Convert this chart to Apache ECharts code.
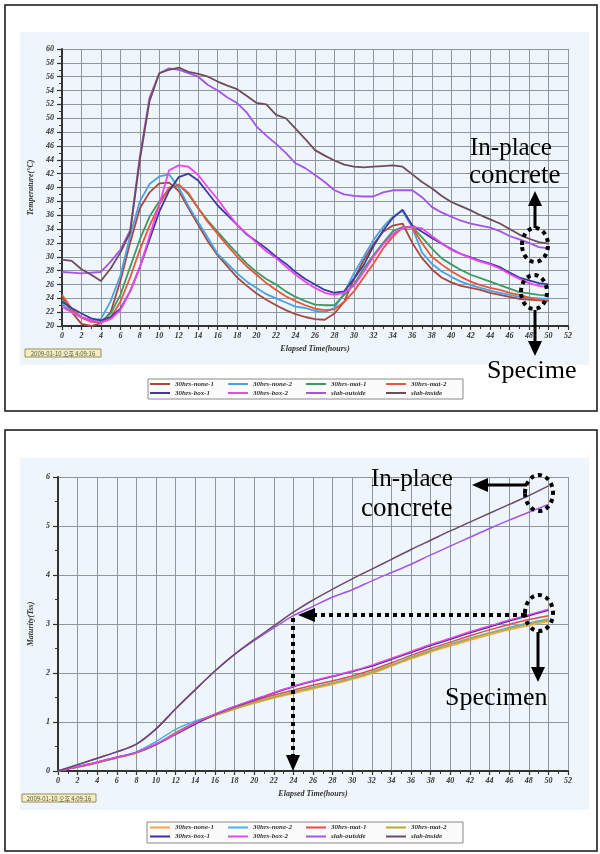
<!DOCTYPE html>
<html><head><meta charset="utf-8">
<script src="https://cdn.jsdelivr.net/npm/echarts/dist/echarts.min.js"></script>
<style>html,body{margin:0;padding:0;background:#fff}#c{width:600px;height:854px}</style>
</head><body><div id="c"></div>
<script>
// ---------- DATA ----------
const seriesNames = ['30hrs-none-1','30hrs-none-2','30hrs-mat-1','30hrs-mat-2','30hrs-box-1','30hrs-box-2','slab-outside','slab-inside'];
const xTicks = [0,2,4,6,8,10,12,14,16,18,20,22,24,26,28,30,32,34,36,38,40,42,44,46,48,50,52];
const tempTicks = [20,22,24,26,28,30,32,34,36,38,40,42,44,46,48,50,52,54,56,58,60];
const maturityTicks = [0,1,2,3,4,5,6];

// Temperature chart (top), hourly 0..50
const tempHours = [0,1,2,3,4,5,6,7,8,9,10,11,12,13,14,15,16,17,18,19,20,21,22,23,24,25,26,27,28,29,30,31,32,33,34,35,36,37,38,39,40,41,42,43,44,45,46,47,48,49,50];
const tempNone1 = [24.3,22.0,20.3,20.0,20.4,22.0,26.5,32.0,37.0,39.3,40.6,40.7,39.5,37.0,34.6,32.2,30.2,28.6,27.0,25.8,24.7,23.8,23.0,22.3,21.7,21.3,21.0,20.9,21.8,23.5,26.8,29.5,31.8,33.6,34.5,34.8,32.0,29.8,28.2,27.0,26.3,25.8,25.5,25.2,24.8,24.5,24.2,23.9,23.8,23.7,23.6];
const tempNone2 = [23.2,22.0,21.2,20.8,21.0,23.6,27.3,33.0,38.0,40.5,41.6,41.9,40.0,37.3,35.0,32.7,30.4,29.0,27.6,26.4,25.5,24.6,24.0,23.4,22.8,22.6,22.2,22.0,22.6,24.8,27.6,30.0,32.4,34.3,35.8,36.6,34.2,30.6,29.0,27.9,27.1,26.4,25.9,25.5,25.1,24.8,24.5,24.2,24.1,24.0,23.9];
const tempMat1 = [23.8,22.3,21.3,20.8,20.6,21.8,24.5,28.5,32.5,35.8,38.0,39.8,40.4,39.0,37.0,35.2,33.6,32.0,30.5,29.0,27.8,26.8,26.0,25.0,24.2,23.6,23.1,23.0,23.0,24.5,26.0,28.3,30.2,32.0,33.7,34.3,34.3,32.8,31.2,29.8,28.9,28.1,27.4,26.9,26.4,25.9,25.4,24.9,24.7,24.5,24.4];
const tempMat2 = [24.5,22.5,21.2,20.6,20.5,21.2,23.5,27.0,31.0,34.5,37.5,40.0,40.4,39.2,37.0,35.0,33.3,31.6,30.0,28.6,27.4,26.2,25.2,24.3,23.6,23.0,22.5,22.3,22.4,23.5,25.0,27.0,29.0,31.2,32.9,34.2,34.2,32.0,30.0,28.9,27.9,27.1,26.4,25.9,25.5,25.2,24.8,24.5,24.1,23.8,23.6];
const tempBox1 = [23.5,22.6,21.8,21.1,20.8,21.3,22.5,25.0,28.5,32.5,36.5,39.5,41.5,42.0,41.0,39.2,37.4,36.0,34.6,33.2,32.2,31.2,30.0,29.0,27.8,26.8,26.0,25.2,24.8,25.0,26.8,28.8,31.5,33.8,35.6,36.8,34.5,33.6,32.7,31.9,31.1,30.4,29.9,29.4,29.0,28.5,27.7,27.0,26.6,26.2,26.0];
const tempBox2 = [22.8,22.0,21.3,20.8,20.5,21.0,22.3,25.0,28.5,33.0,37.5,42.5,43.2,43.0,41.8,40.0,38.3,36.4,34.6,33.3,32.0,30.8,29.8,28.6,27.4,26.4,25.5,24.8,24.5,24.8,25.8,27.8,30.0,31.8,33.3,34.2,34.3,34.1,33.0,32.0,31.0,30.4,29.8,29.3,28.9,28.3,27.5,26.8,26.2,25.8,25.6];
const tempSlabOut = [27.8,27.7,27.6,27.7,27.8,29.3,31.0,33.8,44.5,53.0,56.5,57.2,57.0,56.5,56.0,54.8,54.0,53.0,52.2,50.8,48.8,47.5,46.3,45.0,43.5,42.8,41.8,40.8,39.6,39.0,38.8,38.7,38.7,39.3,39.6,39.6,39.6,38.6,37.2,36.4,35.8,35.2,34.8,34.5,34.2,33.7,33.0,32.5,32.0,31.4,31.2];
const tempSlabIn = [29.6,29.4,28.2,27.4,26.5,28.3,30.6,33.5,44.0,52.5,56.5,57.0,57.3,56.7,56.4,56.0,55.3,54.7,54.2,53.2,52.2,52.0,50.5,50.0,48.5,47.0,45.4,44.6,43.9,43.3,43.0,42.9,43.0,43.1,43.2,43.0,41.9,40.8,39.9,38.8,37.9,37.3,36.7,36.0,35.4,34.8,34.0,33.2,32.6,32.1,31.9];

// Maturity chart (bottom), every 2 hours 0..50
const matHours = [0,2,4,6,8,10,12,14,16,18,20,22,24,26,28,30,32,34,36,38,40,42,44,46,48,50];
const matNone1 = [0,0.08,0.17,0.27,0.37,0.54,0.78,0.98,1.13,1.26,1.38,1.49,1.58,1.68,1.77,1.87,1.99,2.14,2.29,2.43,2.55,2.67,2.78,2.88,2.97,3.05];
const matNone2 = [0,0.08,0.17,0.27,0.39,0.60,0.85,1.02,1.15,1.28,1.40,1.51,1.61,1.71,1.80,1.90,2.02,2.17,2.32,2.46,2.59,2.71,2.82,2.93,3.02,3.10];
const matMat1 = [0,0.08,0.17,0.27,0.37,0.55,0.78,0.99,1.16,1.30,1.43,1.55,1.65,1.75,1.84,1.94,2.06,2.21,2.36,2.50,2.63,2.76,2.88,2.99,3.09,3.17];
const matMat2 = [0,0.08,0.17,0.27,0.37,0.54,0.77,0.97,1.13,1.27,1.40,1.51,1.61,1.70,1.79,1.89,2.01,2.16,2.31,2.45,2.58,2.70,2.81,2.91,3.00,3.08];
const matBox1 = [0,0.09,0.18,0.28,0.38,0.54,0.75,0.96,1.15,1.31,1.45,1.59,1.72,1.83,1.93,2.03,2.14,2.28,2.42,2.56,2.69,2.82,2.94,3.06,3.17,3.28];
const matBox2 = [0,0.09,0.18,0.28,0.38,0.55,0.76,0.98,1.16,1.32,1.46,1.60,1.73,1.84,1.94,2.04,2.16,2.30,2.44,2.58,2.71,2.84,2.96,3.08,3.19,3.30];
const matSlabOut = [0,0.13,0.26,0.39,0.55,0.86,1.27,1.66,2.04,2.38,2.66,2.92,3.17,3.36,3.55,3.70,3.88,4.05,4.22,4.41,4.59,4.77,4.95,5.12,5.28,5.44];
const matSlabIn = [0,0.13,0.26,0.39,0.55,0.86,1.27,1.66,2.04,2.38,2.68,2.96,3.24,3.49,3.71,3.92,4.12,4.32,4.52,4.71,4.90,5.08,5.26,5.44,5.62,5.82];

const topColors = ['#a8473f','#4aa3e0','#3f9a60','#e8553f','#3b3c9c','#ee44ee','#a256e6','#6e4c5c'];
const bottomColors = ['#f0a848','#48b4ea','#e84a48','#b4aa30','#34349a','#e648e6','#a256e6','#6a4a6a'];

// ---------- CHART ----------
const topData = [tempNone1,tempNone2,tempMat1,tempMat2,tempBox1,tempBox2,tempSlabOut,tempSlabIn];
const botData = [matNone1,matNone2,matMat1,matMat2,matBox1,matBox2,matSlabOut,matSlabIn];
const BSUF = '\u200b';

const lab = {fontFamily:'Liberation Serif', fontStyle:'italic', fontWeight:'bold', fontSize:8, color:'#333'};
const gridLine = {show:true, lineStyle:{color:'#8f969d', width:1}};
function xAxis(gi){
  return {type:'value', gridIndex:gi, min:0, max:52, interval:2,
    axisLine:{show:true,onZero:false,lineStyle:{color:'#333',width:2}},
    axisTick:{show:true,length:4,lineStyle:{color:'#333',width:1.2}},
    minorTick:{show:true,splitNumber:2,length:3,lineStyle:{color:'#333',width:1}},
    splitLine:gridLine, axisLabel:Object.assign({margin:6},lab),
    name:'Elapsed Time(hours)', nameLocation:'middle', nameGap:19, nameTextStyle:lab};
}
function yAxis(gi,min,max,itv,name){
  return {type:'value', gridIndex:gi, min:min, max:max, interval:itv,
    axisLine:{show:true,lineStyle:{color:'#333',width:2}},
    axisTick:{show:true,length:5,lineStyle:{color:'#333',width:1.2}},
    minorTick:{show:true,splitNumber:2,length:3,lineStyle:{color:'#333',width:1}},
    splitLine:gridLine, axisLabel:Object.assign({margin:8},lab),
    name:name, nameLocation:'middle', nameGap:20, nameRotate:90, nameTextStyle:lab};
}
const series = [];
seriesNames.forEach((n,i)=>{
  series.push({type:'line', name:n, xAxisIndex:0, yAxisIndex:0, symbol:'none', showSymbol:false,
    lineStyle:{width:1.8,color:topColors[i]}, itemStyle:{color:topColors[i]},
    data: tempHours.map((h,k)=>[h, topData[i][k]])});
});
seriesNames.forEach((n,i)=>{
  series.push({type:'line', name:n+BSUF, xAxisIndex:1, yAxisIndex:1, symbol:'none', showSymbol:false, smooth:0.3,
    lineStyle:{width:1.5,color:bottomColors[i]}, itemStyle:{color:bottomColors[i]},
    data: matHours.map((h,k)=>[h, botData[i][k]])});
});
function legendCol(names, left, top){
  return {orient:'vertical', left:left, top:top, itemGap:0, itemWidth:20, itemHeight:2, icon:'rect',
    padding:0, selectedMode:false, data:names,
    formatter:(nm)=>nm.replace(BSUF,''),
    textStyle:{fontFamily:'Liberation Serif', fontStyle:'italic', fontWeight:'bold', fontSize:7, color:'#333', lineHeight:9}};
}
const legends = [];
const colLeft = [150,228,306,386];
for(let c=0;c<4;c++){
  legends.push(legendCol([seriesNames[c], seriesNames[c+4]], colLeft[c], 379.5));
  legends.push(legendCol([seriesNames[c]+BSUF, seriesNames[c+4]+BSUF], colLeft[c], 823));
}
function dotted(cx,cy,rx,ry){
  return {type:'ellipse', shape:{cx:cx,cy:cy,rx:rx,ry:ry}, style:{fill:null,stroke:'#000',lineWidth:4,lineDash:[4,4]}, z:100};
}
function line(x1,y1,x2,y2,dash){
  return {type:'line', shape:{x1:x1,y1:y1,x2:x2,y2:y2}, style:{stroke:'#000',lineWidth:dash?4:3,lineDash:dash?[4,4]:null}, z:100};
}
function tri(pts){
  return {type:'polygon', shape:{points:pts}, style:{fill:'#000'}, z:100};
}
function txt(s,x,y,fs){
  return {type:'text', x:x, y:y, style:{text:s, font:fs+'px "Liberation Serif"', fill:'#000', verticalAlign:'middle', align:'left'}, z:100};
}
const graphics = [
  {type:'rect', shape:{x:5,y:5,width:592,height:406}, style:{fill:'#fff',stroke:'#111',lineWidth:1.5}, z:-20},
  {type:'rect', shape:{x:20,y:32,width:569,height:333}, style:{fill:'#eef5fb'}, z:-19},
  {type:'rect', shape:{x:5,y:430,width:592,height:421}, style:{fill:'#fff',stroke:'#111',lineWidth:1.5}, z:-20},
  {type:'rect', shape:{x:20,y:458,width:569,height:352}, style:{fill:'#eef5fb'}, z:-19},
  {type:'rect', shape:{x:148,y:379,width:315,height:20}, style:{fill:'#fbfbfb',stroke:'#8a8a8a',lineWidth:1}, z:-18},
  {type:'rect', shape:{x:147,y:822,width:316,height:21}, style:{fill:'#fbfbfb',stroke:'#8a8a8a',lineWidth:1}, z:-18},
  {type:'rect', shape:{x:25,y:349,width:76,height:8}, style:{fill:'#f3eec0',stroke:'#9a8f5a',lineWidth:1}, z:10},
  {type:'text', x:63, y:353.5, style:{text:'2009-01-10 오후 4:09:16', font:'6px "Noto Sans CJK KR"', fill:'#555', align:'center', verticalAlign:'middle'}, z:11},
  {type:'rect', shape:{x:22,y:794,width:74,height:8}, style:{fill:'#f3eec0',stroke:'#9a8f5a',lineWidth:1}, z:10},
  {type:'text', x:59, y:798.5, style:{text:'2009-01-10 오후 4:09:16', font:'6px "Noto Sans CJK KR"', fill:'#555', align:'center', verticalAlign:'middle'}, z:11},
  // top annotations
  txt('In-place',470,148.5,25), txt('concrete',469,176,27),
  line(535,228,535,204), tri([[535,191],[528,206],[542,206]]),
  dotted(535,245,13,17), dotted(534,292,13,17),
  line(535,310,535,343), tri([[535,356],[528,341],[542,341]]),
  txt('Specime',487,371,26),
  // bottom annotations
  txt('In-place',371,479.5,25), txt('concrete',361,509,27),
  line(527,485,486,485), tri([[472,485],[488,478],[488,492]]),
  dotted(539,493,14,18), dotted(539,613,14,18),
  line(525,615,314,615,true), tri([[298,615],[315,608],[315,622]]),
  line(293,618,293,755,true), tri([[293,771],[286,755],[300,755]]),
  line(538,632,538,668), tri([[538,682],[531,667],[545,667]]),
  txt('Specimen',445,698,26)
];

const chart = echarts.init(document.getElementById('c'), null, {renderer:'canvas'});
chart.setOption({
  animation:false,
  backgroundColor:'transparent',
  grid:[{left:62, top:49, width:506, height:277}, {left:58, top:477, width:510, height:294}],
  xAxis:[xAxis(0), xAxis(1)],
  yAxis:[yAxis(0,20,60,2,'Temperature(°C)'), yAxis(1,0,6,1,'Maturity(Tss)')],
  legend:legends,
  series:series,
  graphic:{elements:graphics}
});
</script></body></html>
